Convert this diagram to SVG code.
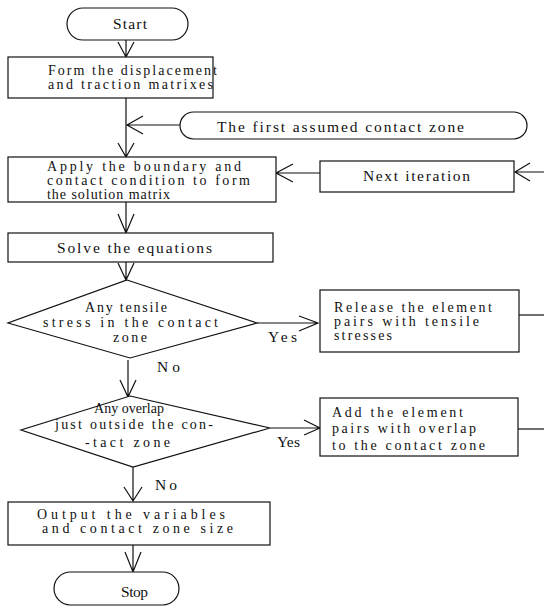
<svg xmlns="http://www.w3.org/2000/svg" width="544" height="608" viewBox="0 0 544 608">
<style>
.b{fill:#fff;stroke:#111;stroke-width:1.2}
.c{fill:none;stroke:#111;stroke-width:1.2}
text{font-family:"Liberation Serif","Times New Roman",serif;font-size:14px;fill:#111}
.s{font-size:15.5px}
</style>
<rect width="544" height="608" fill="#fff"/>
<g id="connectors">
<path class="c" d="M126 40V57M118 42L126 57L134 42"/>
<path class="c" d="M126 98V157M118 143L126 157L134 143"/>
<path class="c" d="M180 125H127M143 116L127 125L143 134"/>
<path class="c" d="M320 173H276M293 164L276 173L293 182"/>
<path class="c" d="M544 172H515M530 163L515 172L530 181"/>
<path class="c" d="M126 202V233M118 214L126 233L134 214"/>
<path class="c" d="M126 262V280M118 263L126 280L134 263"/>
<path class="c" d="M257 323H318M299 316L318 323L299 331"/>
<path class="c" d="M519 315H544"/>
<path class="c" d="M128 360V397M120 380L128 397L136 380"/>
<path class="c" d="M270 428H320M304 420L320 428L304 435"/>
<path class="c" d="M518 429H544"/>
<path class="c" d="M133 467V501M124 487L133 501L142 487"/>
<path class="c" d="M133 545V572M125 552L133 572L141 552"/>
</g>
<g id="start">
<rect class="b" x="67" y="8" width="121" height="32" rx="16"/>
<text class="s" x="113" y="29" textLength="34">Start</text>
</g>
<g id="form">
<rect class="b" x="8" y="57" width="205" height="41"/>
<text x="48" y="75" textLength="169">Form the displacement</text>
<text x="48" y="89" textLength="165">and traction matrixes</text>
</g>
<g id="first">
<rect class="b" x="180" y="112" width="347" height="27" rx="13.5"/>
<text class="s" x="217" y="132" textLength="247">The first assumed contact zone</text>
</g>
<g id="apply">
<rect class="b" x="8" y="157" width="268" height="45"/>
<text x="47" y="171" textLength="194">Apply the boundary and</text>
<text x="47" y="185" textLength="203">contact condition to form</text>
<text x="47" y="199" textLength="123">the solution matrix</text>
</g>
<g id="next">
<rect class="b" x="320" y="161" width="194" height="31"/>
<text class="s" x="363" y="181" textLength="107">Next iteration</text>
</g>
<g id="solve">
<rect class="b" x="8" y="233" width="265" height="29"/>
<text class="s" x="57" y="253" textLength="155">Solve the equations</text>
</g>
<g id="tensile">
<polygon class="b" points="127,280 257,323 130,358 8,323"/>
<text x="85" y="312" textLength="82">Any tensile</text>
<text x="43" y="327" textLength="175">stress in the contact</text>
<text x="113" y="342" textLength="34">zone</text>
</g>
<g id="labels">
<text class="s" x="268" y="342" textLength="29">Yes</text>
<text class="s" x="157" y="372" textLength="23">No</text>
<text class="s" x="277" y="447" textLength="23">Yes</text>
<text class="s" x="155" y="490" textLength="22">No</text>
</g>
<g id="release">
<rect class="b" x="320" y="290" width="199" height="62"/>
<text x="334" y="312" textLength="158">Release the element</text>
<text x="334" y="326" textLength="145">pairs  with tensile</text>
<text x="334" y="340" textLength="58">stresses</text>
</g>
<g id="overlap">
<polygon class="b" points="130,396 270,428 133,467 21,430"/>
<text x="94" y="413" textLength="70">Any overlap</text>
<text x="55" y="429" textLength="158">just outside the con-</text>
<text x="85" y="447" textLength="85">-tact zone</text>
</g>
<g id="add">
<rect class="b" x="320" y="398" width="198" height="58"/>
<text x="332" y="417" textLength="131">Add the element</text>
<text x="332" y="433" textLength="144">pairs with overlap</text>
<text x="332" y="450" textLength="153">to the contact zone</text>
</g>
<g id="output">
<rect class="b" x="8" y="502" width="262" height="43"/>
<text x="37" y="519" textLength="188">Output the variables</text>
<text x="42" y="533" textLength="191">and contact zone size</text>
</g>
<g id="stop">
<rect class="b" x="54" y="572" width="125" height="33" rx="16.5"/>
<text class="s" x="121" y="597" textLength="27">Stop</text>
</g>
</svg>
